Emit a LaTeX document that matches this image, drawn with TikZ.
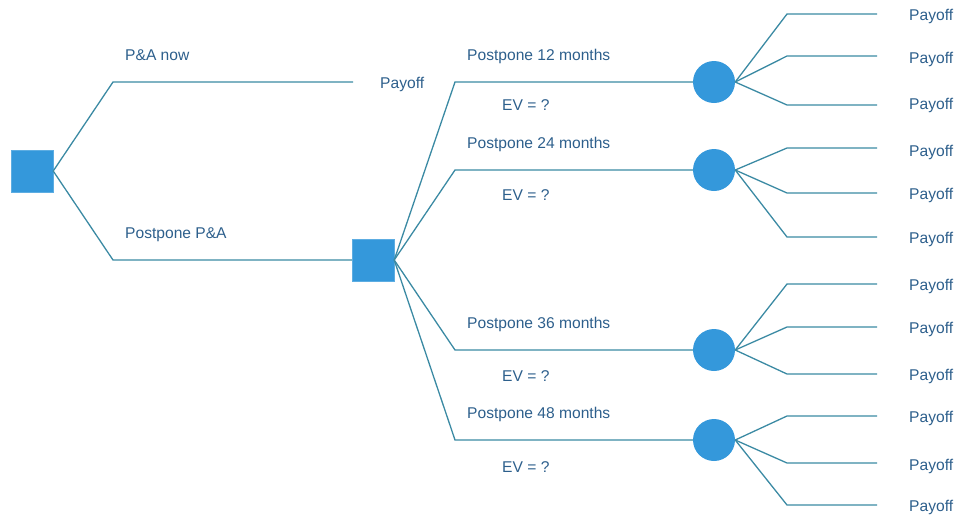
\documentclass[tikz,border=0pt]{standalone}
\usepackage{fontspec}
\setmainfont{Liberation Sans}
\usepackage{tikz}
\usetikzlibrary{positioning}
\definecolor{boxblue}{HTML}{3498DB}
\definecolor{branchteal}{HTML}{3B8AA3}
\definecolor{labelblue}{HTML}{2D5F8C}

\begin{document}
\begin{tikzpicture}[x=1pt,y=-1pt,
  decision/.style={draw=boxblue!80!white,fill=boxblue,minimum size=42pt,inner sep=0pt},
  chance/.style={circle,fill=boxblue,minimum size=42pt,inner sep=0pt},
  branch/.style={draw=branchteal,line width=1.3pt},
  txt/.style={text=labelblue,font=\fontsize{15.6}{18}\selectfont,anchor=west,inner sep=0pt,yshift=-2.5pt}]
  \useasboundingbox (0,0) rectangle (957,515);

  \node [decision] (0) at (32,171) {};
  \node [decision] (1) at (373,260) {};
  \node [chance] (c1) at (714,82) {};
  \node [chance] (c2) at (714,170) {};
  \node [chance] (c3) at (714,350) {};
  \node [chance] (c4) at (714,440) {};

  \coordinate (k0) at (113,82);
  \coordinate (k1) at (113,260);
  \coordinate (e0) at (353,82);
  \coordinate (k2) at (455,82);
  \coordinate (k3) at (455,170);
  \coordinate (k4) at (455,350);
  \coordinate (k5) at (455,440);

  \node [txt] (n0) at (125,53) {P\&A now};
  \node [txt] (n1) at (125,232) {Postpone P\&A};
  \node [txt] (p0) at (380,82) {Payoff};
  \node [txt] (m1) at (467,54) {Postpone 12 months};
  \node [txt] (m2) at (467,142) {Postpone 24 months};
  \node [txt] (m3) at (467,322) {Postpone 36 months};
  \node [txt] (m4) at (467,412) {Postpone 48 months};
  \node [txt] (v1) at (502,103) {EV = ?};
  \node [txt] (v2) at (502,193) {EV = ?};
  \node [txt] (v3) at (502,374) {EV = ?};
  \node [txt] (v4) at (502,465) {EV = ?};

  \path [branch] (0.east) -- (k0) -- (e0);
  \path [branch] (0.east) -- (k1) -- (1.west);
  \path [branch] (1.east) -- (k2) -- (c1.west);
  \path [branch] (1.east) -- (k3) -- (c2.west);
  \path [branch] (1.east) -- (k4) -- (c3.west);
  \path [branch] (1.east) -- (k5) -- (c4.west);

  \node [txt] (p1) at (909,14) {Payoff};
  \node [txt] (p2) at (909,57) {Payoff};
  \node [txt] (p3) at (909,103) {Payoff};
  \node [txt] (p4) at (909,150) {Payoff};
  \node [txt] (p5) at (909,193) {Payoff};
  \node [txt] (p6) at (909,237) {Payoff};
  \node [txt] (p7) at (909,284) {Payoff};
  \node [txt] (p8) at (909,327) {Payoff};
  \node [txt] (p9) at (909,374) {Payoff};
  \node [txt] (p10) at (909,416) {Payoff};
  \node [txt] (p11) at (909,464) {Payoff};
  \node [txt] (p12) at (909,505) {Payoff};

  \path [branch] (c1.east) -- (787,14) -- (877,14);
  \path [branch] (c1.east) -- (787,56) -- (877,56);
  \path [branch] (c1.east) -- (787,105) -- (877,105);
  \path [branch] (c2.east) -- (787,148) -- (877,148);
  \path [branch] (c2.east) -- (787,193) -- (877,193);
  \path [branch] (c2.east) -- (787,237) -- (877,237);
  \path [branch] (c3.east) -- (787,284) -- (877,284);
  \path [branch] (c3.east) -- (787,327) -- (877,327);
  \path [branch] (c3.east) -- (787,374) -- (877,374);
  \path [branch] (c4.east) -- (787,416) -- (877,416);
  \path [branch] (c4.east) -- (787,463) -- (877,463);
  \path [branch] (c4.east) -- (787,505) -- (877,505);

\end{tikzpicture}
\end{document}
